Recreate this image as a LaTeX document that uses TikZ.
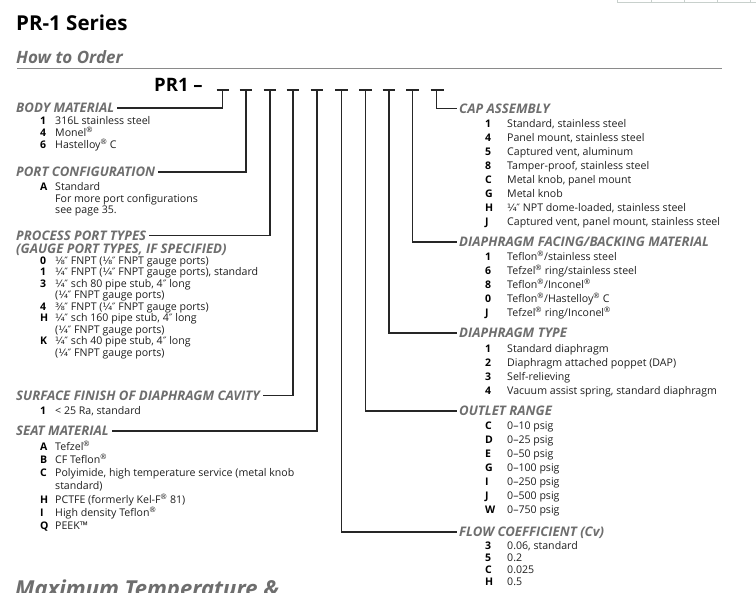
\documentclass[tikz,border=0pt]{standalone}
\usepackage{fontspec}
\setmainfont{Open Sans}
\newfontfamily\fracf[Scale=0.95]{DejaVu Sans}
\definecolor{hdrgray}{HTML}{6E6E6E}
\definecolor{txt}{HTML}{1E1E1E}
\definecolor{linec}{HTML}{262626}
\definecolor{rulec}{HTML}{8A8A8A}
\definecolor{tblc}{HTML}{C8D0CC}
\newcommand\fr[1]{{\fracf #1\kern-0.5pt″}}
\newcommand\inch{{\fracf ″}}
\newcommand\reg{\textsuperscript{®}}
\tikzset{
  num/.style={anchor=base west, inner sep=0pt, font=\bfseries\fontsize{10.5}{12}\selectfont, text=black},
  item/.style={anchor=base west, inner sep=0pt, font=\fontsize{10.6}{12}\selectfont, text=txt},
  hdr/.style={anchor=base west, inner sep=0pt, font=\bfseries\itshape\fontsize{13.2}{15}\selectfont, text=hdrgray, text height=9.4pt, text depth=0pt},
  conn/.style={draw=linec, line width=1.15pt},
  rule/.style={draw=rulec, line width=0.9pt},
}
\newcommand\Lit[4]{\node[num] (#1n) at (40,#2+3.8) {#3}; \node[item] (#1t) at (55,#2+3.8) {#4};}
\newcommand\Lco[3]{\node[item] (#1t) at (55,#2+3.8) {#3};}
\newcommand\Rit[4]{\node[num] (#1n) at (485,#2+3.8) {#3}; \node[item] (#1t) at (507,#2+3.8) {#4};}
\begin{document}
\begin{tikzpicture}[x=1pt,y=-1pt]
\useasboundingbox (0,0) rectangle (756,593);
\clip (0,0) rectangle (756,593);
% table fragment top right
\draw[draw=tblc, line width=0.8pt] (617,2) -- (756,2);
\foreach \xx in {617,651,684,717,750} \draw[draw=tblc, line width=0.8pt] (\xx,0) -- (\xx,2);
% titles
\node[anchor=base west, inner sep=0pt, font=\bfseries\fontsize{20.5}{22}\selectfont] (title) at (16,30.5) {PR-1 Series};
\node[anchor=base west, inner sep=0pt, font=\bfseries\itshape\fontsize{17}{19}\selectfont, text=hdrgray] (how) at (16,64) {How to Order};
\draw[rule] (17,68) -- (722,68);
\node[anchor=base west, inner sep=0pt, font=\bfseries\fontsize{18.5}{20}\selectfont] (pr1) at (154,92) {PR1 –};
% code dashes and vertical tops
\foreach \xa/\xb in {216.5/229,239.5/252,263.5/276,286.5/299,310.5/323,335/347.5,359/371.5,382.5/395,406/418.5,430.5/443.5}
  \draw[conn] (\xa,90) -- (\xb,90);
\coordinate (v1) at (222.5,90);
\coordinate (v2) at (246,90);
\coordinate (v3) at (270,90);
\coordinate (v4) at (293,90);
\coordinate (v5) at (317,90);
\coordinate (v6) at (341.5,90);
\coordinate (v7) at (365.5,90);
\coordinate (v8) at (389,90);
\coordinate (v9) at (412.5,90);
\coordinate (v10) at (436.5,90);
% ---------- left column
\node[hdr] (bm) at (16,108+4.7) {BODY MATERIAL};
\Lit{b1}{121}{1}{316L stainless steel}
\Lit{b2}{133}{4}{Monel\reg}
\Lit{b3}{145}{6}{Hastelloy\reg{} C}
\node[hdr] (pc) at (16,172+4.7) {PORT CONFIGURATION};
\Lit{p1}{187}{A}{Standard}
\Lco{p2}{198.5}{For more port configurations}
\Lco{p3}{210}{see page 35.}
\node[hdr] (pp) at (16,235.5+4.7) {PROCESS PORT TYPES};
\node[hdr] (gp) at (16,249+4.7) {(GAUGE PORT TYPES, IF SPECIFIED)};
\Lit{q1}{260.5}{0}{\fr{⅛} FNPT (\fr{⅛} FNPT gauge ports)}
\Lit{q2}{272}{1}{\fr{¼} FNPT (\fr{¼} FNPT gauge ports), standard}
\Lit{q3}{283.5}{3}{\fr{¼} sch 80 pipe stub, 4\inch{} long}
\Lco{q3b}{295}{(\fr{¼} FNPT gauge ports)}
\Lit{q4}{306.5}{4}{\fr{⅜} FNPT (\fr{¼} FNPT gauge ports)}
\Lit{q5}{318}{H}{\fr{¼} sch 160 pipe stub, 4\inch{} long}
\Lco{q5b}{329.5}{(\fr{¼} FNPT gauge ports)}
\Lit{q6}{341}{K}{\fr{¼} sch 40 pipe stub, 4\inch{} long}
\Lco{q6b}{352.5}{(\fr{¼} FNPT gauge ports)}
\node[hdr] (sf) at (16,395.5+4.7) {SURFACE FINISH OF DIAPHRAGM CAVITY};
\Lit{s1}{410.5}{1}{< 25 Ra, standard}
\node[hdr] (sm) at (16,431+4.7) {SEAT MATERIAL};
\Lit{m1}{446.5}{A}{Tefzel\reg}
\Lit{m2}{460}{B}{CF Teflon\reg}
\Lit{m3}{473}{C}{Polyimide, high temperature service (metal knob}
\Lco{m3b}{486}{standard)}
\Lit{m4}{500}{H}{PCTFE (formerly Kel-F\reg{} 81)}
\Lit{m5}{513}{I}{High density Teflon\reg}
\Lit{m6}{526}{Q}{PEEK™}
\node[anchor=base west, inner sep=0pt, font=\bfseries\itshape\fontsize{22}{24}\selectfont, text=hdrgray] (maxt) at (15,597) {Maximum Temperature \&};
% ---------- right column
\node[hdr] (ca) at (459,108.5+4.7) {CAP ASSEMBLY};
\Rit{c1}{124}{1}{Standard, stainless steel}
\Rit{c2}{138}{4}{Panel mount, stainless steel}
\Rit{c3}{152}{5}{Captured vent, aluminum}
\Rit{c4}{166}{8}{Tamper-proof, stainless steel}
\Rit{c5}{180}{C}{Metal knob, panel mount}
\Rit{c6}{194}{G}{Metal knob}
\Rit{c7}{208}{H}{\fr{¼} NPT dome-loaded, stainless steel}
\Rit{c8}{222}{J}{Captured vent, panel mount, stainless steel}
\node[hdr] (df) at (459,242+4.7) {DIAPHRAGM FACING/BACKING MATERIAL};
\Rit{f1}{257}{1}{Teflon\reg/stainless steel}
\Rit{f2}{271}{6}{Tefzel\reg{} ring/stainless steel}
\Rit{f3}{285}{8}{Teflon\reg/Inconel\reg}
\Rit{f4}{299}{0}{Teflon\reg/Hastelloy\reg{} C}
\Rit{f5}{313}{J}{Tefzel\reg{} ring/Inconel\reg}
\node[hdr] (dt) at (459,333+4.7) {DIAPHRAGM TYPE};
\Rit{t1}{349}{1}{Standard diaphragm}
\Rit{t2}{363}{2}{Diaphragm attached poppet (DAP)}
\Rit{t3}{377}{3}{Self-relieving}
\Rit{t4}{391}{4}{Vacuum assist spring, standard diaphragm}
\node[hdr] (or) at (459,411+4.7) {OUTLET RANGE};
\Rit{o1}{426}{C}{0–10 psig}
\Rit{o2}{440}{D}{0–25 psig}
\Rit{o3}{454}{E}{0–50 psig}
\Rit{o4}{468}{G}{0–100 psig}
\Rit{o5}{482}{I}{0–250 psig}
\Rit{o6}{496}{J}{0–500 psig}
\Rit{o7}{510}{W}{0–750 psig}
\node[hdr] (fc) at (459,532+4.7) {FLOW COEFFICIENT (Cv)};
\Rit{k1}{546}{3}{0.06, standard}
\Rit{k2}{558}{5}{0.2}
\Rit{k3}{570}{C}{0.025}
\Rit{k4}{582}{H}{0.5}
% ---------- connectors
\draw[conn] (v1) |- ([xshift=3pt]bm.east);
\draw[conn] (v2) |- ([xshift=3pt]pc.east);
\draw[conn] (v3) |- ([xshift=3pt]pp.east);
\draw[conn] (v4) |- ([xshift=3pt]sf.east);
\draw[conn] (v5) |- ([xshift=3pt]sm.east);
\draw[conn] (v6) |- ([xshift=-2pt]fc.west);
\draw[conn] (v7) |- ([xshift=-2pt]or.west);
\draw[conn] (v8) |- ([xshift=-2pt]dt.west);
\draw[conn] (v9) |- ([xshift=-2pt]df.west);
\draw[conn] (v10) |- ([xshift=-2pt]ca.west);
\end{tikzpicture}
\end{document}
